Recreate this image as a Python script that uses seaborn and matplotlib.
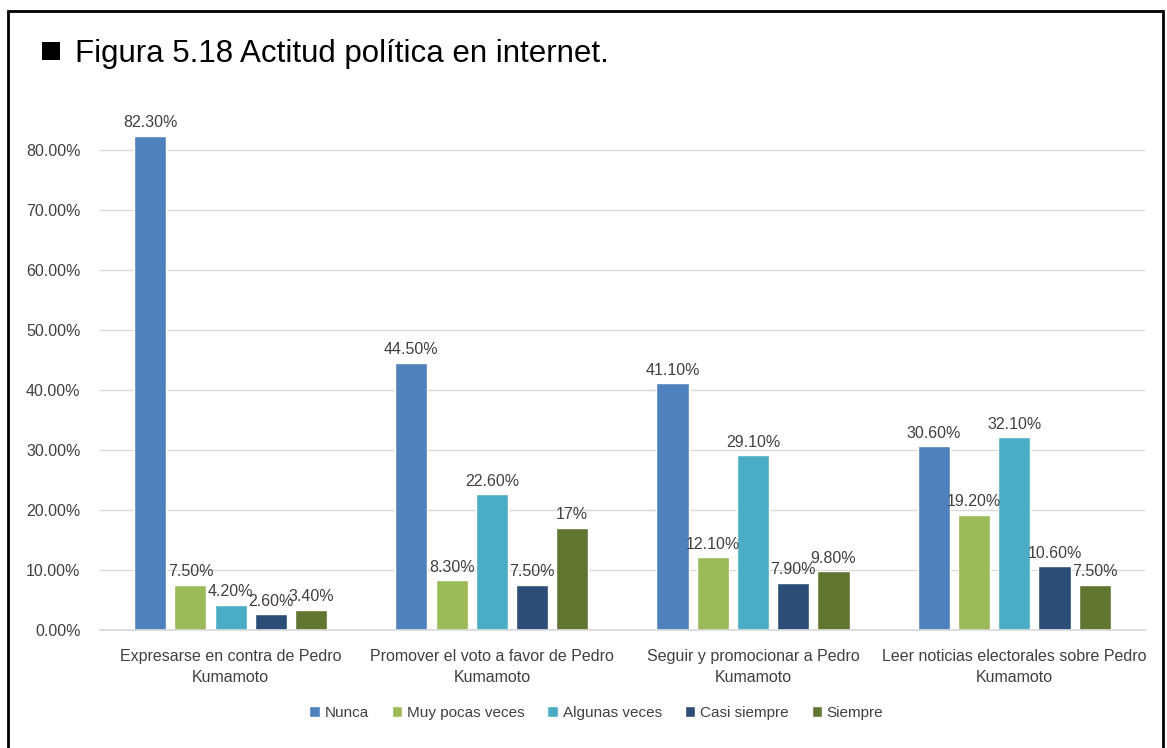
import matplotlib
matplotlib.use("Agg")
import matplotlib.pyplot as plt
from matplotlib.patches import Rectangle
import seaborn as sns
import pandas as pd

# Chart data
actividades = [
    "Expresarse en contra de Pedro\nKumamoto",
    "Promover el voto a favor de Pedro\nKumamoto",
    "Seguir y promocionar a Pedro\nKumamoto",
    "Leer noticias electorales sobre Pedro\nKumamoto",
]
frecuencias = ["Nunca", "Muy pocas veces", "Algunas veces", "Casi siempre", "Siempre"]
nunca = [82.3, 44.5, 41.1, 30.6]
muy_pocas = [7.5, 8.3, 12.1, 19.2]
algunas = [4.2, 22.6, 29.1, 32.1]
casi_siempre = [2.6, 7.5, 7.9, 10.6]
siempre = [3.4, 17.0, 9.8, 7.5]
# values printed without decimals: (frecuencia, actividad index)
sin_decimales = {("Siempre", 1)}
y_ticks = [0, 10, 20, 30, 40, 50, 60, 70, 80]

colores = ["#4F81BD", "#9BBB59", "#4BACC6", "#2C4D75", "#5F7530"]

series = [nunca, muy_pocas, algunas, casi_siempre, siempre]
filas = []
for f, vals in zip(frecuencias, series):
    for a, v in zip(actividades, vals):
        filas.append({"actividad": a, "frecuencia": f, "pct": v})
df = pd.DataFrame(filas)

sns.set_theme(style="white")
plt.rcParams["font.family"] = ["Liberation Sans", "DejaVu Sans"]

fig = plt.figure(figsize=(11.67, 7.48), dpi=100)
ax = fig.add_axes([0.0857, 0.1578, 0.8953, 0.69])

sns.barplot(
    data=df, x="actividad", y="pct", hue="frecuencia",
    order=actividades, hue_order=frecuencias, palette=colores,
    width=0.77, gap=0.2, saturation=1, ax=ax, legend=True,
)

# Value labels above each bar
for f, cont in zip(frecuencias, ax.containers):
    vals = df[df["frecuencia"] == f]["pct"].tolist()
    labels = []
    for i, v in enumerate(vals):
        if (f, i) in sin_decimales:
            labels.append(f"{v:.0f}%")
        else:
            labels.append(f"{v:.2f}%")
    ax.bar_label(cont, labels=labels, padding=4, fontsize=11.5, color="#404040")

ax.set_ylim(0, 86)
ax.set_xlim(-0.5, 3.5)
ax.set_yticks(y_ticks)
ax.set_yticklabels([f"{t:.2f}%" for t in y_ticks])
ax.yaxis.grid(True, color="#D9D9D9", linewidth=1)
ax.set_axisbelow(True)
for s in ["top", "right", "left"]:
    ax.spines[s].set_visible(False)
ax.spines["bottom"].set_color("#D9D9D9")
ax.tick_params(axis="both", length=0, labelsize=11.5, colors="#404040")
ax.tick_params(axis="y", pad=14)
ax.tick_params(axis="x", pad=14)
for lab in ax.get_xticklabels():
    lab.set_linespacing(1.45)
ax.set_xlabel("")
ax.set_ylabel("")

leg = ax.legend(
    loc="upper center", bbox_to_anchor=(0.475, -0.12), ncol=5, frameon=False,
    fontsize=11, handlelength=0.7, handleheight=0.7, handletextpad=0.3,
    columnspacing=1.5,
)
for t in leg.get_texts():
    t.set_color("#404040")

# Title with square marker and outer frame
fig.patches.append(Rectangle((42 / 1167, 1 - 60 / 748), 18 / 1167, 18 / 748,
                             transform=fig.transFigure, facecolor="black",
                             edgecolor="none"))
fig.text(75 / 1167, 1 - 54 / 748, "Figura 5.18 Actitud política en internet.",
         fontsize=22.5, va="center", ha="left", color="black")
fig.patches.append(Rectangle((8 / 1167, -0.05), 1155 / 1167, 1.05 - 11 / 748,
                             transform=fig.transFigure, facecolor="none",
                             edgecolor="black", linewidth=2))

fig.savefig("out.png", dpi=100)
